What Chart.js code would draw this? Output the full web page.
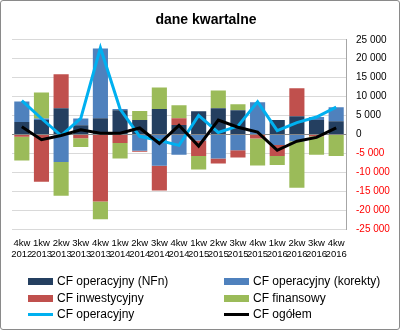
<!DOCTYPE html>
<html>
<head>
<meta charset="utf-8">
<script src="https://cdn.jsdelivr.net/npm/chart.js@4.4.1/dist/chart.umd.min.js"></script>
<style>
  body { margin: 0; background: #fff; }
  #box { position: relative; width: 400px; height: 330px; box-sizing: border-box; border: 1px solid #8a8a8a; border-radius: 3px; overflow: hidden; font-family: "Liberation Sans", Arial, sans-serif; }
  #wrap { position: absolute; left: -1px; top: -1px; width: 400px; height: 270px; }
  #legend { position: absolute; left: -1px; top: 0; width: 400px; height: 330px; pointer-events: none; }
  .item { position: absolute; font-size: 12px; color: #000; white-space: nowrap; line-height: 14px; }
  .sw { position: absolute; left: 0; width: 25px; }
</style>
</head>
<body>
<div id="box">
  <div id="wrap"><canvas id="myChart"></canvas></div>
  <div id="legend"></div>
</div>
<script>
// categories (quarter, year)
const labels_kw = ["4kw", "1kw", "2kw", "3kw", "4kw", "1kw", "2kw", "3kw", "4kw", "1kw", "2kw", "3kw", "4kw", "1kw", "2kw", "3kw", "4kw"];
const labels_rok = ["2012", "2013", "2013", "2013", "2013", "2014", "2014", "2014", "2014", "2015", "2015", "2015", "2015", "2016", "2016", "2016", "2016"];

// values
const data_nfn = [3300, 3800, 6900, 2400, 4300, 6400, 3800, 6700, 2500, 6100, 6900, 6400, 0, 3800, 4800, 3800, 3500];
const data_korekty = [5400, 400, -7300, 1800, 18400, 300, -4300, -8300, -5400, -1600, -6400, -4200, 8500, -2800, -1800, 800, 3700];
const data_inwest = [-600, -12500, 9000, -1000, -17700, -2300, -300, -6500, 1800, -4100, -1300, -1900, -1100, -2900, 7400, -500, 0];
const data_finans = [-6300, 6900, -8900, -2300, -4700, -4100, 2400, 5700, 3400, -3600, 4700, 1600, -7100, -2400, -12300, -4900, -5700];
const data_operacyjny = [8900, 4200, -300, 4200, 22900, 6700, -500, -1600, -2900, 5000, 500, 2200, 8600, 1000, 3100, 4600, 7200];
const data_ogolem = [2000, -1400, -300, 1200, 300, 300, 1700, -2400, 2400, -3100, 3800, 1900, 600, -4200, -1800, -800, 1700];

const y_min = -25000;
const y_max = 25000;
const y_step = 5000;

const labels = labels_kw.map((k, i) => [k, labels_rok[i]]);

function fmt(v) {
    let s = Math.abs(v).toString().replace(/\B(?=(\d{3})+(?!\d))/g, " ");
    return (v < 0 ? "-" : "") + s;
}

const config = {
    data: {
        labels: labels,
        datasets: [
            { type: "bar", label: "CF operacyjny (NFn)", data: data_nfn, backgroundColor: "#243f60", stack: "cf", order: 2 },
            { type: "bar", label: "CF operacyjny (korekty)", data: data_korekty, backgroundColor: "#4f81bd", stack: "cf", order: 2 },
            { type: "bar", label: "CF inwestycyjny", data: data_inwest, backgroundColor: "#c0504d", stack: "cf", order: 2 },
            { type: "bar", label: "CF finansowy", data: data_finans, backgroundColor: "#9bbb59", stack: "cf", order: 2 },
            { type: "line", label: "CF operacyjny", data: data_operacyjny, borderColor: "#00b0f0", backgroundColor: "#00b0f0", borderWidth: 3, pointRadius: 0, tension: 0, stack: "op", order: 1 },
            { type: "line", label: "CF ogółem", data: data_ogolem, borderColor: "#000000", backgroundColor: "#000000", borderWidth: 3, pointRadius: 0, tension: 0, stack: "og", order: 0 },
        ],
    },
    options: {
        responsive: true,
        maintainAspectRatio: false,
        animation: false,
        events: [],
        layout: { padding: { left: 12, right: 0, top: 0, bottom: 0 } },
        datasets: { bar: { categoryPercentage: 1, barPercentage: 0.77, borderWidth: 0 } },
        plugins: {
            legend: { display: false },
            tooltip: { enabled: false },
            title: {
                display: true,
                text: "dane kwartalne",
                color: "#000",
                font: { family: "Liberation Sans", size: 14, weight: "bold" },
                padding: { top: 12, bottom: 11 },
            },
        },
        scales: {
            x: {
                stacked: true,
                grid: { display: false },
                border: { display: false },
                ticks: {
                    autoSkip: false,
                    maxRotation: 0,
                    minRotation: 0,
                    padding: 0,
                    color: "#000",
                    font: { family: "Liberation Sans", size: 9.5, lineHeight: 1.25 },
                },
                afterFit: (scale) => { scale.height = 41; },
            },
            y: {
                position: "right",
                stacked: true,
                min: y_min,
                max: y_max,
                grid: {
                    drawTicks: false,
                    color: (ctx) => (ctx.tick && ctx.tick.value === 0 ? "#868686" : "#d9d9d9"),
                },
                border: { display: true, color: "#a6a6a6" },
                ticks: {
                    stepSize: y_step,
                    padding: 10,
                    font: { family: "Liberation Sans", size: 10 },
                    color: (ctx) => (ctx.tick && ctx.tick.value < 0 ? "#ff0000" : "#000000"),
                    callback: (v) => fmt(v),
                },
                afterFit: (scale) => { scale.width = 54; },
            },
        },
    },
};

const ctx1 = document.getElementById("myChart").getContext("2d");
const chart = new Chart(ctx1, config);

// legend in two columns, built from the chart datasets
const legend_x = [28, 224];
const legend_y = [280, 297, 313];
const legendDiv = document.getElementById("legend");
chart.data.datasets.forEach((ds, i) => {
    const col = i % 2;
    const row = Math.floor(i / 2);
    const item = document.createElement("div");
    item.className = "item";
    item.style.left = legend_x[col] + "px";
    item.style.top = (legend_y[row] - 7) + "px";
    item.style.paddingLeft = "29px";
    const sw = document.createElement("div");
    sw.className = "sw";
    if (ds.type === "line") {
        sw.style.height = "3px";
        sw.style.top = "6px";
        sw.style.background = ds.borderColor;
    } else {
        sw.style.height = "7px";
        sw.style.top = "4px";
        sw.style.background = ds.backgroundColor;
    }
    item.appendChild(sw);
    item.appendChild(document.createTextNode(ds.label));
    legendDiv.appendChild(item);
});
</script>
</body>
</html>
